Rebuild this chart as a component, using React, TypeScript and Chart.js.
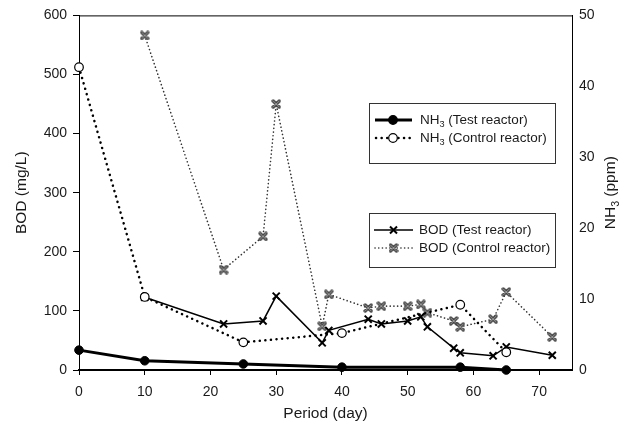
import React, { useEffect, useRef } from "react";
import { Chart, registerables } from "chart.js";

Chart.register(...registerables);

// ---- data ----
const xTicks = [0, 10, 20, 30, 40, 50, 60, 70];
const nh3Days = [0, 10, 25, 40, 58, 65];
const nh3Test = [2.8, 1.3, 0.85, 0.4, 0.4, 0.0];
const nh3Control = [42.7, 10.3, 3.9, 5.2, 9.2, 2.5];
const bodDays = [10, 22, 28, 30, 37, 38, 44, 46, 50, 52, 53, 57, 58, 63, 65, 72];
const bodTest = [123, 78, 83, 125, 46, 67, 86, 78, 83, 90, 73, 37, 29, 24, 39, 25];
const bodControl = [566, 170, 226, 450, 74, 128, 105, 108, 108, 111, 97, 83, 73, 86, 132, 56];

const FONT = "'Liberation Sans', Arial, sans-serif";
const TXT = "#1a1a1a";

type Part = { t: string; sub?: boolean };

function richWidth(ctx: CanvasRenderingContext2D, parts: Part[], size: number) {
  let w = 0;
  for (const p of parts) {
    ctx.font = `${p.sub ? size * 0.68 : size}px ${FONT}`;
    w += ctx.measureText(p.t).width;
  }
  return w;
}

function drawRich(
  ctx: CanvasRenderingContext2D,
  x: number,
  y: number,
  parts: Part[],
  size: number,
  align: "left" | "center"
) {
  const w = richWidth(ctx, parts, size);
  let cx = align === "center" ? x - w / 2 : x;
  ctx.textAlign = "left";
  ctx.textBaseline = "middle";
  ctx.fillStyle = TXT;
  for (const p of parts) {
    ctx.font = `${p.sub ? size * 0.68 : size}px ${FONT}`;
    ctx.fillText(p.t, cx, p.sub ? y + size * 0.32 : y);
    cx += ctx.measureText(p.t).width;
  }
}

function makeGrayX(): HTMLCanvasElement {
  const c = document.createElement("canvas");
  c.width = 10;
  c.height = 10;
  const g = c.getContext("2d")!;
  g.lineCap = "round";
  const line = (w: number, col: string) => {
    g.strokeStyle = col;
    g.lineWidth = w;
    g.beginPath();
    g.moveTo(2, 2);
    g.lineTo(8, 8);
    g.moveTo(8, 2);
    g.lineTo(2, 8);
    g.stroke();
  };
  line(3.2, "#444");
  line(1, "#9a9a9a");
  return c;
}

function drawCircle(ctx: CanvasRenderingContext2D, x: number, y: number, r: number, filled: boolean) {
  ctx.beginPath();
  ctx.arc(x, y, r, 0, Math.PI * 2);
  ctx.fillStyle = filled ? "#000" : "#fff";
  ctx.fill();
  ctx.lineWidth = 1.2;
  ctx.strokeStyle = "#000";
  ctx.stroke();
}

function drawX(ctx: CanvasRenderingContext2D, x: number, y: number, s: number) {
  ctx.beginPath();
  ctx.lineWidth = 2;
  ctx.strokeStyle = "#000";
  ctx.moveTo(x - s, y - s);
  ctx.lineTo(x + s, y + s);
  ctx.moveTo(x + s, y - s);
  ctx.lineTo(x - s, y + s);
  ctx.stroke();
}

export default function App() {
  const ref = useRef<HTMLCanvasElement | null>(null);

  useEffect(() => {
    if (!ref.current) return;
    const grayX = makeGrayX();

    const overlay = {
      id: "overlay",
      afterDraw(chart: any) {
        const ctx: CanvasRenderingContext2D = chart.ctx;
        const a = chart.chartArea;
        ctx.save();
        // top frame line
        ctx.strokeStyle = "#000";
        ctx.lineWidth = 1;
        ctx.beginPath();
        ctx.moveTo(a.left, a.top + 0.5);
        ctx.lineTo(a.right + 0.5, a.top + 0.5);
        ctx.stroke();

        // axis titles
        const midY = (a.top + a.bottom) / 2;
        ctx.save();
        ctx.translate(22, midY);
        ctx.rotate(-Math.PI / 2);
        drawRich(ctx, 0, 0, [{ t: "BOD (mg/L)" }], 15.5, "center");
        ctx.restore();

        ctx.save();
        ctx.translate(611, midY);
        ctx.rotate(-Math.PI / 2);
        drawRich(ctx, 0, 0, [{ t: "NH" }, { t: "3", sub: true }, { t: " (ppm)" }], 15.5, "center");
        ctx.restore();

        drawRich(ctx, (a.left + a.right) / 2, 414, [{ t: "Period (day)" }], 15.5, "center");

        // legend box 1
        ctx.fillStyle = "#fff";
        ctx.strokeStyle = "#333";
        ctx.lineWidth = 1;
        ctx.fillRect(369.5, 103.5, 186, 60);
        ctx.strokeRect(369.5, 103.5, 186, 60);
        // NH3 test
        ctx.setLineDash([]);
        ctx.lineWidth = 3;
        ctx.strokeStyle = "#000";
        ctx.beginPath();
        ctx.moveTo(375, 120);
        ctx.lineTo(412, 120);
        ctx.stroke();
        drawCircle(ctx, 393, 120, 4.3, true);
        drawRich(ctx, 420, 120, [{ t: "NH" }, { t: "3", sub: true }, { t: " (Test reactor)" }], 13.5, "left");
        // NH3 control
        ctx.lineCap = "round";
        ctx.setLineDash([0.1, 5.5]);
        ctx.lineWidth = 2.5;
        ctx.beginPath();
        ctx.moveTo(376, 138);
        ctx.lineTo(412, 138);
        ctx.stroke();
        ctx.setLineDash([]);
        ctx.lineCap = "butt";
        drawCircle(ctx, 393, 138, 4.3, false);
        drawRich(ctx, 420, 138, [{ t: "NH" }, { t: "3", sub: true }, { t: " (Control reactor)" }], 13.5, "left");

        // legend box 2
        ctx.fillStyle = "#fff";
        ctx.strokeStyle = "#333";
        ctx.lineWidth = 1;
        ctx.fillRect(369.5, 213.5, 186, 54);
        ctx.strokeRect(369.5, 213.5, 186, 54);
        ctx.lineWidth = 1.5;
        ctx.strokeStyle = "#000";
        ctx.beginPath();
        ctx.moveTo(374, 230);
        ctx.lineTo(413, 230);
        ctx.stroke();
        drawX(ctx, 393.5, 230, 3.5);
        drawRich(ctx, 419, 230, [{ t: "BOD (Test reactor)" }], 13.5, "left");
        ctx.lineCap = "round";
        ctx.setLineDash([0.1, 3.6]);
        ctx.lineWidth = 1.6;
        ctx.strokeStyle = "#333";
        ctx.beginPath();
        ctx.moveTo(375, 248);
        ctx.lineTo(413, 248);
        ctx.stroke();
        ctx.setLineDash([]);
        ctx.drawImage(grayX, 393.5 - 5, 248 - 5);
        drawRich(ctx, 419, 248, [{ t: "BOD (Control reactor)" }], 13.5, "left");
        ctx.restore();
      },
    };

    const chart = new Chart(ref.current, {
      type: "line",
      data: {
        datasets: [
          {
            label: "NH3 (Test reactor)",
            data: nh3Days.map((d, i) => ({ x: d, y: nh3Test[i] })),
            yAxisID: "y1",
            clip: false,
            borderColor: "#000",
            borderWidth: 3,
            pointStyle: "circle",
            pointRadius: 4.3,
            pointBackgroundColor: "#000",
            pointBorderColor: "#000",
            pointBorderWidth: 1,
            tension: 0,
          },
          {
            label: "NH3 (Control reactor)",
            data: nh3Days.map((d, i) => ({ x: d, y: nh3Control[i] })),
            yAxisID: "y1",
            clip: false,
            borderColor: "#000",
            borderWidth: 2.5,
            borderDash: [0.1, 5.5],
            borderCapStyle: "round",
            pointStyle: "circle",
            pointRadius: 4.3,
            pointBackgroundColor: "#fff",
            pointBorderColor: "#000",
            pointBorderWidth: 1.2,
            tension: 0,
          },
          {
            label: "BOD (Test reactor)",
            data: bodDays.map((d, i) => ({ x: d, y: bodTest[i] })),
            yAxisID: "y",
            clip: false,
            borderColor: "#000",
            borderWidth: 1.5,
            pointStyle: "crossRot",
            pointRadius: 5,
            pointBorderColor: "#000",
            pointBorderWidth: 2,
            tension: 0,
          },
          {
            label: "BOD (Control reactor)",
            data: bodDays.map((d, i) => ({ x: d, y: bodControl[i] })),
            yAxisID: "y",
            clip: false,
            borderColor: "#333",
            borderWidth: 1.6,
            borderDash: [0.1, 3.6],
            borderCapStyle: "round",
            pointStyle: grayX as any,
            pointRadius: 5,
            tension: 0,
          },
        ],
      },
      options: {
        responsive: false,
        animation: false,
        events: [],
        layout: { padding: { top: 15, left: 0, right: 0, bottom: 0 } },
        plugins: { legend: { display: false }, tooltip: { enabled: false } },
        scales: {
          x: {
            type: "linear",
            min: 0,
            max: 75,
            afterBuildTicks: (s: any) => {
              s.ticks = xTicks.map((v) => ({ value: v }));
            },
            afterFit: (s: any) => {
              s.height = 58;
            },
            grid: { drawOnChartArea: false, drawTicks: true, tickLength: 5, color: "#000" },
            border: { display: true, color: "#000", width: 2 },
            ticks: { color: TXT, font: { family: FONT, size: 14 }, padding: 9, maxRotation: 0 },
          },
          y: {
            type: "linear",
            position: "left",
            min: 0,
            max: 600,
            ticks: { stepSize: 100, color: TXT, font: { family: FONT, size: 14 }, padding: 6 },
            afterFit: (s: any) => {
              s.width = 79;
            },
            grid: { drawOnChartArea: false, drawTicks: true, tickLength: 6, color: "#000" },
            border: { display: true, color: "#000", width: 1 },
          },
          y1: {
            type: "linear",
            position: "right",
            min: 0,
            max: 50,
            ticks: { stepSize: 10, color: TXT, font: { family: FONT, size: 14 }, padding: 7 },
            afterFit: (s: any) => {
              s.width = 64;
            },
            grid: { drawOnChartArea: false, drawTicks: false, color: "#000" },
            border: { display: true, color: "#000", width: 1 },
          },
        },
      },
      plugins: [overlay],
    });
    return () => chart.destroy();
  }, []);

  return (
    <div style={{ position: "fixed", left: 0, top: 0, width: 636, height: 428, background: "#fff" }}>
      <canvas ref={ref} width={636} height={428} style={{ width: 636, height: 428, display: "block" }} />
    </div>
  );
}
